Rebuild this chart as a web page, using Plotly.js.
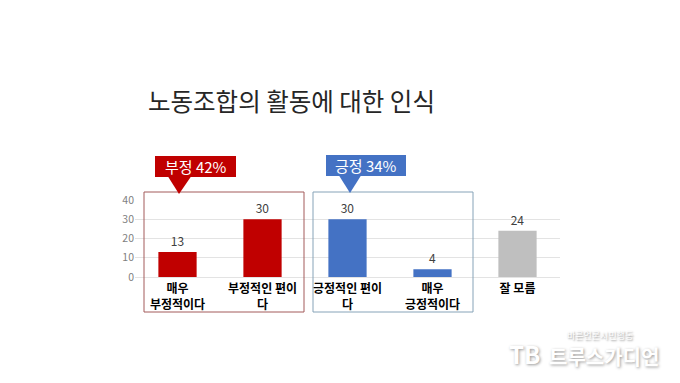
<!DOCTYPE html>
<html><head><meta charset="utf-8">
<script src="https://cdn.plot.ly/plotly-3.0.1.min.js"></script>
<style>html,body{margin:0;padding:0;background:#fff;}#c{width:680px;height:383px;}</style>
</head><body><div id="c"></div>
<script>
const categories = ["매우<br>부정적이다", "부정적인 편이<br>다", "긍정적인 편이<br>다", "매우<br>긍정적이다", "잘 모름"];
const values = [13, 30, 30, 4, 24];
const barColors = ["#c00000", "#c00000", "#4472c4", "#4472c4", "#bfbfbf"];
const yTicks = [0, 10, 20, 30, 40];
const titleText = "노동조합의 활동에 대한 인식";
const negLabel = "부정 42%";
const posLabel = "긍정 34%";

const W = 680, H = 383;
const L = 135, R = 560, T = 200, B = 277;
const px = X => (X - L) / (R - L);
const py = Y => (B - Y) / (B - T);
const FONT = "'Noto Sans CJK KR', 'Noto Sans', sans-serif";

const shapes = [
  {type:'rect', xref:'paper', yref:'paper', x0:px(144), x1:px(304), y0:py(312), y1:py(192), line:{color:'#a35a5a', width:1}, fillcolor:'rgba(0,0,0,0)'},
  {type:'rect', xref:'paper', yref:'paper', x0:px(313), x1:px(473), y0:py(312), y1:py(192), line:{color:'#86a3b8', width:1}, fillcolor:'rgba(0,0,0,0)'},
  {type:'rect', xref:'paper', yref:'paper', x0:px(155), x1:px(236), y0:py(177), y1:py(156), line:{width:0}, fillcolor:'#c00000'},
  {type:'path', xref:'paper', yref:'paper', path:`M ${px(168)},${py(176.5)} L ${px(191)},${py(176.5)} L ${px(179)},${py(194)} Z`, line:{width:0}, fillcolor:'#c00000'},
  {type:'rect', xref:'paper', yref:'paper', x0:px(326), x1:px(406), y0:py(176), y1:py(155), line:{width:0}, fillcolor:'#4472c4'},
  {type:'path', xref:'paper', yref:'paper', path:`M ${px(339)},${py(175.5)} L ${px(361)},${py(175.5)} L ${px(350)},${py(193)} Z`, line:{width:0}, fillcolor:'#4472c4'}
];

const annotations = [
  {xref:'paper', yref:'paper', x:px(146), y:py(100), xanchor:'left', yanchor:'middle', text:titleText, showarrow:false, font:{family:FONT, size:24.5, color:'#262626'}},
  {xref:'paper', yref:'paper', x:px(195.5), y:py(166.5), xanchor:'center', yanchor:'middle', text:negLabel, showarrow:false, font:{family:FONT, size:15, color:'#ffffff'}},
  {xref:'paper', yref:'paper', x:px(366), y:py(165.5), xanchor:'center', yanchor:'middle', text:posLabel, showarrow:false, font:{family:FONT, size:15, color:'#ffffff'}},
  {xref:'paper', yref:'paper', x:px(600), y:py(335), xanchor:'center', yanchor:'middle', text:'바른언론시민행동', showarrow:false, font:{family:FONT, size:9, color:'#ffffff', shadow:'1px 1px 2px #888'}},
  {xref:'paper', yref:'paper', x:px(604), y:py(356), xanchor:'center', yanchor:'middle', text:'<b>트루스가디언</b>', showarrow:false, font:{family:FONT, size:20, color:'#ffffff', shadow:'1px 1px 3px #999'}},
  {xref:'paper', yref:'paper', x:px(524), y:py(353), xanchor:'center', yanchor:'middle', text:'<b>TB</b>', showarrow:false, font:{family:FONT, size:24, color:'#ffffff', shadow:'1px 1px 3px #999'}}
];

const trace = {
  type:'bar', x:categories, y:values,
  marker:{color:barColors},
  text:values.map(String), textposition:'outside',
  textfont:{family:FONT, size:12, color:'#404040'},
  cliponaxis:false, hoverinfo:'none'
};

const layout = {
  width:W, height:H,
  margin:{l:L, r:W-R, t:T, b:H-B, pad:0},
  paper_bgcolor:'#fff', plot_bgcolor:'#fff',
  showlegend:false, bargap:0.55,
  font:{family:FONT},
  xaxis:{type:'category', tickvals:categories, ticktext:categories.map(c => '<b>'+c+'</b>'),
         tickfont:{family:FONT, size:12, color:'#000'}, ticklabelstandoff:3,
         showgrid:false, zeroline:false, showline:false, ticks:''},
  yaxis:{range:[0,40], tickvals:yTicks, tickfont:{family:FONT, size:10.5, color:'#7f7f7f'},
         gridcolor:'#e3e3e3', gridwidth:1, zeroline:true, zerolinecolor:'#e3e3e3', zerolinewidth:1, ticks:'', ticklen:0, showline:false},
  shapes:shapes, annotations:annotations
};

Plotly.newPlot('c', [trace], layout, {staticPlot:true, displayModeBar:false});
</script>
</body></html>
